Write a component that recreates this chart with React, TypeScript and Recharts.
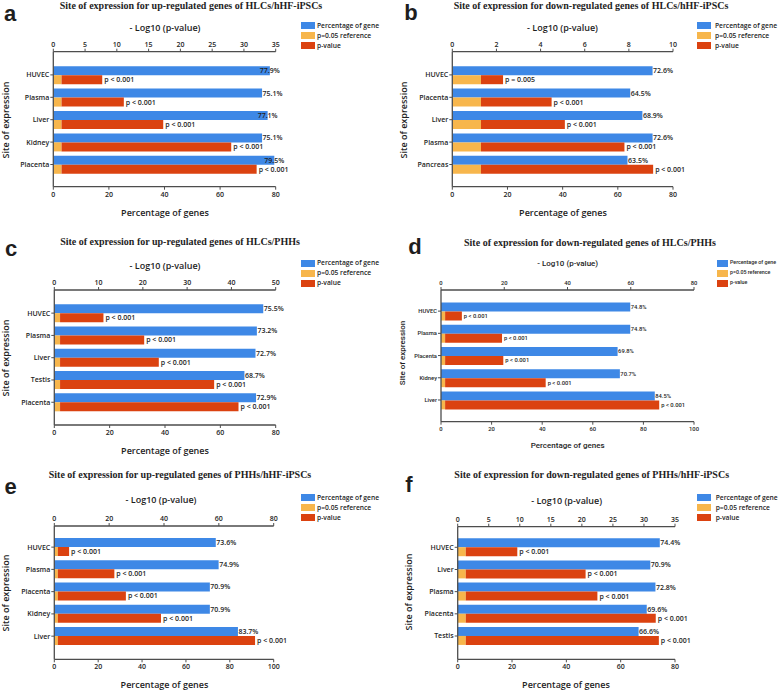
import React from "react";
import { BarChart, Bar, XAxis, YAxis, LabelList } from "recharts";

const BLUE = "#3E88E6";
const ORANGE = "#F7B64C";
const RED = "#DB4210";
const AXIS = "#4d4d4d";
const INK = "#1e1e1e";
const P_REF = 1.3; // -log10(0.05)

const SANS = '"Open Sans", "DejaVu Sans", sans-serif';
const NARROW = 'Roboto, "Liberation Sans", sans-serif';
const SERIF = '"Liberation Serif", "DejaVu Serif", serif';

const LEGEND_LABELS = ["Percentage of gene", "p=0.05 reference", "p-value"];
const LEGEND_COLORS = [BLUE, ORANGE, RED];

// a: up-regulated HLCs/hHF-iPSCs
const sitesA = ["HUVEC", "Plasma", "Liver", "Kidney", "Placenta"];
const pctA = [77.9, 75.1, 77.1, 75.1, 79.5];
const logPA = [7.7, 11.1, 17.3, 28.0, 32.0];
const pTextA = ["p < 0.001", "p < 0.001", "p < 0.001", "p < 0.001", "p < 0.001"];
const logTicksA = [0, 5, 10, 15, 20, 25, 30, 35];
const pctTicksA = [0, 20, 40, 60, 80];

// b: down-regulated HLCs/hHF-iPSCs
const sitesB = ["HUVEC", "Placenta", "Liver", "Plasma", "Pancreas"];
const pctB = [72.6, 64.5, 68.9, 72.6, 63.5];
const logPB = [2.3, 4.5, 5.1, 7.8, 9.1];
const pTextB = ["p = 0.005", "p < 0.001", "p < 0.001", "p < 0.001", "p < 0.001"];
const logTicksB = [0, 2, 4, 6, 8, 10];
const pctTicksB = [0, 20, 40, 60, 80];

// c: up-regulated HLCs/PHHs
const sitesC = ["HUVEC", "Plasma", "Liver", "Testis", "Placenta"];
const pctC = [75.5, 73.2, 72.7, 68.7, 72.9];
const logPC = [11.1, 20.3, 23.6, 36.1, 41.6];
const pTextC = ["p < 0.001", "p < 0.001", "p < 0.001", "p < 0.001", "p < 0.001"];
const logTicksC = [0, 10, 20, 30, 40, 50];
const pctTicksC = [0, 20, 40, 60, 80];

// d: down-regulated HLCs/PHHs
const sitesD = ["HUVEC", "Plasma", "Placenta", "Kidney", "Liver"];
const pctD = [74.8, 74.8, 69.8, 70.7, 84.5];
const logPD = [6.6, 19.3, 19.7, 33.1, 69.0];
const pTextD = ["p < 0.001", "p < 0.001", "p < 0.001", "p < 0.001", "p < 0.001"];
const logTicksD = [0, 20, 40, 60, 80];
const pctTicksD = [0, 20, 40, 60, 80, 100];

// e: up-regulated PHHs/hHF-iPSCs
const sitesE = ["HUVEC", "Plasma", "Placenta", "Kidney", "Liver"];
const pctE = [73.6, 74.9, 70.9, 70.9, 83.7];
const logPE = [5.4, 21.9, 26.1, 38.9, 73.2];
const pTextE = ["p < 0.001", "p < 0.001", "p < 0.001", "p < 0.001", "p < 0.001"];
const logTicksE = [0, 20, 40, 60, 80];
const pctTicksE = [0, 20, 40, 60, 80, 100];

// f: down-regulated PHHs/hHF-iPSCs
const sitesF = ["HUVEC", "Liver", "Plasma", "Placenta", "Testis"];
const pctF = [74.4, 70.9, 72.8, 69.6, 66.6];
const logPF = [9.6, 20.6, 22.5, 31.9, 32.4];
const pTextF = ["p < 0.001", "p < 0.001", "p < 0.001", "p < 0.001", "p < 0.001"];
const logTicksF = [0, 5, 10, 15, 20, 25, 30, 35];
const pctTicksF = [0, 20, 40, 60, 80];

const W = 388;
const H = 230;
const TOP_H = 20;
const BOT_H = 20;
const Y_W = 40;

interface Panel {
  letter: string;
  title: string;
  sites: string[];
  pct: number[];
  logP: number[];
  pText: string[];
  logTicks: number[];
  pctTicks: number[];
  x0: number;
  y0: number;
  box: [number, number, number, number]; // left, right, top, bottom (page px)
  pad: [number, number];
  gap: number;
  font: string;
  fs: number;
  axisFs: number;
  weight: number;
  legendFs: number;
  nudgeAbove?: number;
  titleAt: [number, number];
  letterAt: [number, number];
  logLabelAt: [number, number];
  pctLabelAt: [number, number];
  yLabelAt: [number, number];
  legend: { sx: number; tx: number; sw: number; rows: number[] };
}

const panels: Panel[] = [
  {
    letter: "a",
    title: "Site of expression for up-regulated genes of HLCs/hHF-iPSCs",
    sites: sitesA, pct: pctA, logP: logPA, pText: pTextA, logTicks: logTicksA, pctTicks: pctTicksA,
    x0: 0, y0: 0, box: [53.3, 275.7, 51.7, 186.7], pad: [12, 11], gap: 2.5,
    font: SANS, fs: 7, axisFs: 9, weight: 600, legendFs: 6.7, nudgeAbove: 76,
    titleAt: [191, 6], letterAt: [10, 14], logLabelAt: [165, 26.7], pctLabelAt: [165, 211.7], yLabelAt: [5, 120],
    legend: { sx: 301, tx: 317, sw: 14, rows: [25.7, 35.7, 45.7] },
  },
  {
    letter: "b",
    title: "Site of expression for down-regulated genes of HLCs/hHF-iPSCs",
    sites: sitesB, pct: pctB, logP: logPB, pText: pTextB, logTicks: logTicksB, pctTicks: pctTicksB,
    x0: 390, y0: 0, box: [452.3, 673, 51.7, 186.7], pad: [12, 11], gap: 2.5,
    font: SANS, fs: 7, axisFs: 9, weight: 600, legendFs: 6.7,
    titleAt: [591, 6], letterAt: [411, 13], logLabelAt: [562.5, 26.7], pctLabelAt: [563, 211.7], yLabelAt: [403.3, 120],
    legend: { sx: 697, tx: 715, sw: 14, rows: [25.7, 35.7, 45.7] },
  },
  {
    letter: "c",
    title: "Site of expression for up-regulated genes of HLCs/PHHs",
    sites: sitesC, pct: pctC, logP: logPC, pText: pTextC, logTicks: logTicksC, pctTicks: pctTicksC,
    x0: 0, y0: 230, box: [54.3, 275.7, 290, 425], pad: [12, 11.6], gap: 2.2,
    font: SANS, fs: 7, axisFs: 9, weight: 600, legendFs: 6.7,
    titleAt: [180, 242], letterAt: [11, 249], logLabelAt: [165, 265], pctLabelAt: [165, 450], yLabelAt: [5, 358],
    legend: { sx: 301, tx: 317, sw: 14, rows: [263.3, 273.3, 283.3] },
  },
  {
    letter: "d",
    title: "Site of expression for down-regulated genes of HLCs/PHHs",
    sites: sitesD, pct: pctD, logP: logPD, pText: pTextD, logTicks: logTicksD, pctTicks: pctTicksD,
    x0: 390, y0: 230, box: [441, 694, 290, 421.7], pad: [10, 10.6], gap: 2.5,
    font: NARROW, fs: 5.8, axisFs: 8, weight: 500, legendFs: 5.3,
    titleAt: [590, 243.3], letterAt: [415, 247], logLabelAt: [567.7, 264.3], pctLabelAt: [567.7, 446], yLabelAt: [403, 353],
    legend: { sx: 716.7, tx: 730, sw: 11.6, rows: [263.3, 273.3, 283.3] },
  },
  {
    letter: "e",
    title: "Site of expression for up-regulated genes of PHHs/hHF-iPSCs",
    sites: sitesE, pct: pctE, logP: logPE, pText: pTextE, logTicks: logTicksE, pctTicks: pctTicksE,
    x0: 0, y0: 460, box: [54.3, 273.7, 526, 659.3], pad: [10, 12], gap: 2,
    font: SANS, fs: 7, axisFs: 9, weight: 600, legendFs: 6.7,
    titleAt: [180, 475], letterAt: [10.5, 487], logLabelAt: [161, 499.3], pctLabelAt: [164.5, 684], yLabelAt: [5, 593],
    legend: { sx: 301, tx: 317, sw: 14, rows: [497.7, 507.7, 517.7] },
  },
  {
    letter: "f",
    title: "Site of expression for down-regulated genes of PHHs/hHF-iPSCs",
    sites: sitesF, pct: pctF, logP: logPF, pText: pTextF, logTicks: logTicksF, pctTicks: pctTicksF,
    x0: 390, y0: 460, box: [457.7, 675, 526.7, 659.3], pad: [9.5, 12.2], gap: 2,
    font: SANS, fs: 7, axisFs: 9, weight: 600, legendFs: 6.7,
    titleAt: [591.7, 475], letterAt: [409, 485], logLabelAt: [566.7, 500], pctLabelAt: [566, 684], yLabelAt: [408.3, 591.7],
    legend: { sx: 697, tx: 715.7, sw: 14, rows: [497.7, 507.7, 517.7] },
  },
];

function Txt(props: {
  x: number; y: number; size: number; font: string; weight?: number | string;
  rotate?: boolean; align?: "center" | "left"; children: React.ReactNode;
}) {
  const { x, y, size, font, weight = 600, rotate, align = "center", children } = props;
  const tf = align === "center"
    ? `translate(-50%, -50%)${rotate ? " rotate(-90deg)" : ""}`
    : "translate(0, -50%)";
  return (
    <div
      style={{
        position: "absolute", left: x, top: y, transform: tf,
        fontFamily: font, fontSize: size, fontWeight: weight as any,
        color: INK, whiteSpace: "nowrap", lineHeight: 1,
      }}
    >
      {children}
    </div>
  );
}

function PanelChart({ p }: { p: Panel }) {
  const rows = p.sites.map((site, i) => ({
    site,
    pct: p.pct[i],
    refBar: P_REF,
    extra: p.logP[i] - P_REF,
    pText: p.pText[i],
  }));
  const [L, R, T, B] = p.box;
  const margin = {
    left: L - p.x0 - Y_W,
    right: p.x0 + W - R,
    top: T - p.y0 - TOP_H,
    bottom: p.y0 + H - B - BOT_H,
  };
  const tick = { fill: INK, fontSize: p.fs, fontFamily: p.font, fontWeight: p.weight };
  const axisLine = { stroke: AXIS, strokeWidth: 1.3 };
  const tickLine = { stroke: AXIS, strokeWidth: 1 };

  const pctLabel = (props: any) => {
    const { x, y, width, height, value } = props;
    let lx = x + width + 0.5;
    if (p.nudgeAbove !== undefined && value > p.nudgeAbove) lx -= 10.5;
    return (
      <text x={lx} y={y + height / 2} dy="0.35em" fontSize={p.fs} fontFamily={p.font} fontWeight={p.weight} fill={INK}>
        {`${Number(value).toFixed(1)}%`}
      </text>
    );
  };
  const pLabel = (props: any) => {
    const { x, y, width, height, value } = props;
    return (
      <text x={x + width + 2} y={y + height / 2} dy="0.35em" fontSize={p.fs} fontFamily={p.font} fontWeight={p.weight} fill={INK}>
        {value}
      </text>
    );
  };

  return (
    <div style={{ position: "absolute", left: p.x0, top: p.y0 }}>
      <BarChart
        width={W}
        height={H}
        data={rows}
        layout="vertical"
        margin={margin}
        barCategoryGap={p.gap}
        barGap={0}
      >
        <XAxis
          xAxisId="pct"
          orientation="bottom"
          type="number"
          domain={[0, p.pctTicks[p.pctTicks.length - 1]]}
          ticks={p.pctTicks}
          interval={0}
          height={BOT_H}
          tickSize={3}
          tickMargin={2}
          axisLine={axisLine}
          tickLine={tickLine}
          tick={tick}
        />
        <XAxis
          xAxisId="log"
          orientation="top"
          type="number"
          domain={[0, p.logTicks[p.logTicks.length - 1]]}
          ticks={p.logTicks}
          interval={0}
          height={TOP_H}
          tickSize={3}
          tickMargin={2}
          axisLine={axisLine}
          tickLine={tickLine}
          tick={tick}
        />
        <YAxis
          type="category"
          dataKey="site"
          width={Y_W}
          padding={{ top: p.pad[0], bottom: p.pad[1] }}
          tickSize={3}
          tickMargin={1}
          interval={0}
          axisLine={axisLine}
          tickLine={tickLine}
          tick={tick}
        />
        <Bar xAxisId="pct" dataKey="pct" stackId="gene" fill={BLUE} isAnimationActive={false}>
          <LabelList dataKey="pct" content={pctLabel} />
        </Bar>
        <Bar xAxisId="log" dataKey="refBar" stackId="p" fill={ORANGE} isAnimationActive={false} />
        <Bar xAxisId="log" dataKey="extra" stackId="p" fill={RED} isAnimationActive={false}>
          <LabelList dataKey="pText" content={pLabel} />
        </Bar>
      </BarChart>
    </div>
  );
}

function PanelText({ p }: { p: Panel }) {
  return (
    <>
      <Txt x={p.titleAt[0]} y={p.titleAt[1]} size={10} font={SERIF} weight={700}>{p.title}</Txt>
      <Txt x={p.letterAt[0]} y={p.letterAt[1]} size={22} font='"Liberation Sans", Arial, sans-serif' weight={700}>{p.letter}</Txt>
      <Txt x={p.logLabelAt[0]} y={p.logLabelAt[1]} size={p.axisFs} font={p.font} weight={p.weight}>- Log10 (p-value)</Txt>
      <Txt x={p.pctLabelAt[0]} y={p.pctLabelAt[1]} size={p.axisFs} font={p.font} weight={p.weight}>Percentage of genes</Txt>
      <Txt x={p.yLabelAt[0]} y={p.yLabelAt[1]} size={p.axisFs} font={p.font} weight={p.weight} rotate>Site of expression</Txt>
      {LEGEND_LABELS.map((lab, i) => (
        <React.Fragment key={lab}>
          <div
            style={{
              position: "absolute", left: p.legend.sx, top: p.legend.rows[i] - 3.5,
              width: p.legend.sw, height: 7, background: LEGEND_COLORS[i],
            }}
          />
          <Txt x={p.legend.tx} y={p.legend.rows[i]} size={p.legendFs} font={p.font} weight={p.weight} align="left">{lab}</Txt>
        </React.Fragment>
      ))}
    </>
  );
}

export default function App() {
  return (
    <div
      style={{
        position: "absolute", left: 0, top: 0, width: 778, height: 690,
        background: "#fff", overflow: "hidden",
      }}
    >
      {panels.map((p) => (
        <React.Fragment key={p.letter}>
          <PanelChart p={p} />
          <PanelText p={p} />
        </React.Fragment>
      ))}
    </div>
  );
}
